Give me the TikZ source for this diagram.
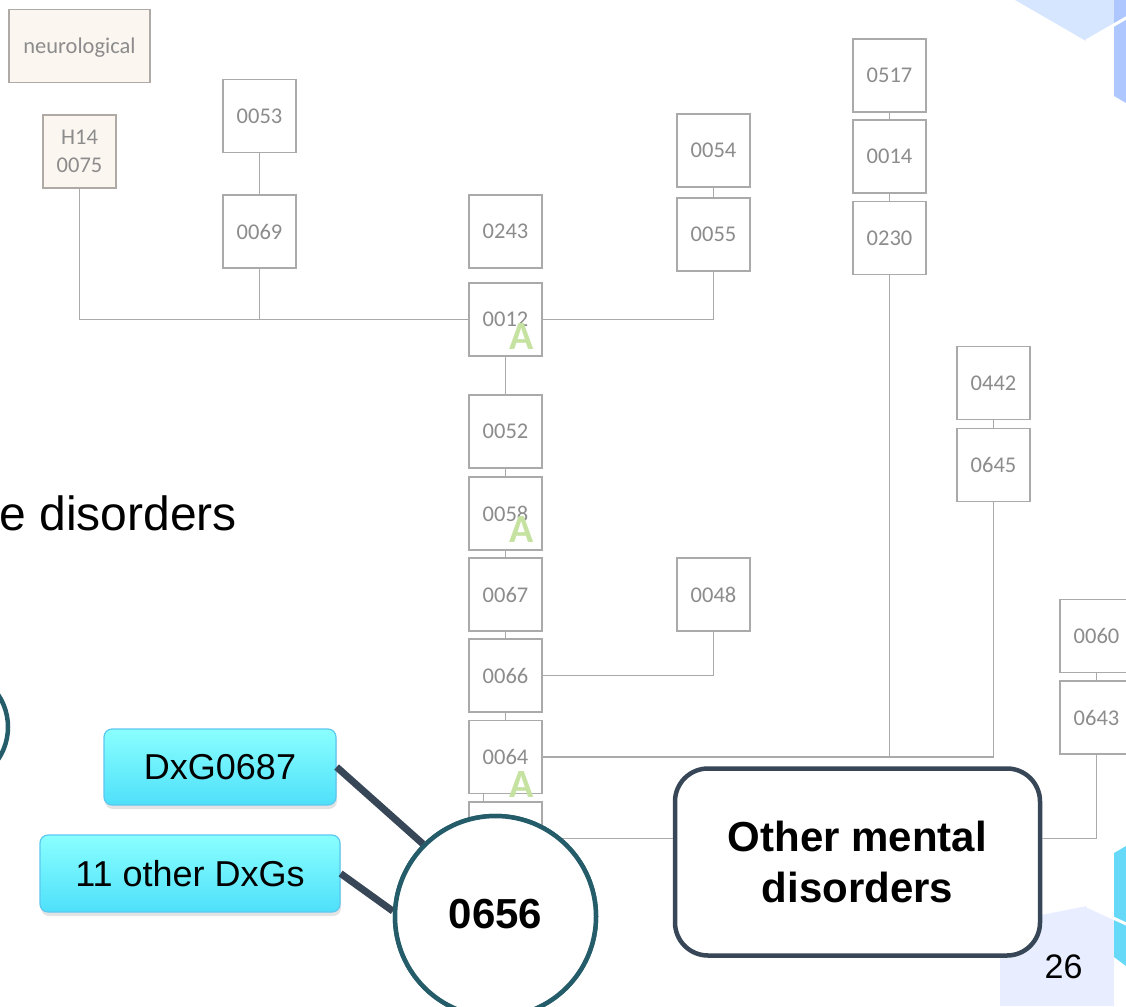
\documentclass[tikz,border=0pt]{standalone}
\usepackage{fontspec}
\setmainfont{Liberation Sans}
\newfontfamily\calfont{Carlito}
\usetikzlibrary{shadows}

\definecolor{boxline}{RGB}{170,170,170}
\definecolor{boxtext}{RGB}{140,140,140}
\definecolor{beige}{RGB}{252,246,241}
\definecolor{beigeline}{RGB}{176,170,166}
\definecolor{agreen}{RGB}{197,226,160}
\definecolor{slate}{RGB}{56,71,87}
\definecolor{ringteal}{RGB}{36,92,106}
\definecolor{cyantop}{RGB}{138,255,255}
\definecolor{cyanbot}{RGB}{78,224,250}
\definecolor{cyanline}{RGB}{92,200,240}
\definecolor{hexlight}{RGB}{214,230,255}
\definecolor{hexblue}{RGB}{174,200,255}
\definecolor{hexlav}{RGB}{232,238,255}
\definecolor{hexcyan}{RGB}{102,217,248}

\begin{document}
\begin{tikzpicture}[x=1pt,y=-1pt,
  codebox/.style={draw=boxline, line width=1.3pt, fill=white,
    minimum width=73pt, minimum height=73pt, inner sep=0pt, text depth=0pt,
    text=boxtext, font=\calfont\fontsize{22.5}{28}\selectfont, align=center},
  oldbox/.style={codebox, fill=beige, draw=beigeline},
  link/.style={draw=boxline, line width=1.3pt},
  amark/.style={text=agreen, font=\calfont\bfseries\fontsize{40}{40}\selectfont,
    inner sep=0pt, anchor=base},
  dxg/.style={rounded corners=8pt, draw=cyanline, line width=1.2pt,
    top color=cyantop, bottom color=cyanbot, inner sep=0pt,
    font=\fontsize{36}{40}\selectfont,
    drop shadow={opacity=0.22, shadow xshift=1pt, shadow yshift=-4pt}},
  heavy/.style={draw=slate, line width=7pt},
  ring/.style={circle, draw=ringteal, line width=4.5pt, fill=white,
    minimum size=201pt, inner sep=0pt},
  groupbox/.style={draw=slate, line width=4.5pt, fill=white, rounded corners=33pt,
    minimum width=365pt, minimum height=187pt, inner sep=0pt, align=center,
    font=\bfseries\fontsize{42}{51}\selectfont}
]
\useasboundingbox (0,0) rectangle (1126,1006);

% corner hexagons
\fill[hexlight] (1015,0) -- (1086,41) -- (1126,18) -- (1126,0) -- cycle;
\fill[hexblue] (1114,0) -- (1114,96) -- (1126,103) -- (1126,0) -- cycle;
\draw[white, line width=3pt] (1086,41) -- (1140,10);
\fill[hexlav] (1000,923) -- (1087,906) -- (1114,918) -- (1114,1006) -- (1000,1006) -- cycle;
\fill[hexcyan] (1114,853) -- (1126,846) -- (1126,966) -- (1114,957) -- cycle;
\draw[white, line width=3pt] (1087,906) -- (1135,928);

% code boxes
\node[oldbox, minimum width=141pt] (neuro) at (79.5,46) {neurological};
\node[oldbox] (h14) at (79.5,151.5) {H14\\0075};
\node[codebox] (b0053) at (259.5,116) {0053};
\node[codebox] (b0069) at (259.5,231.5) {0069};
\node[codebox] (b0243) at (505.5,231.5) {0243};
\node[codebox] (b0012) at (505.5,319.5) {0012};
\node[codebox] (b0054) at (713.5,150.5) {0054};
\node[codebox] (b0055) at (713.5,234.5) {0055};
\node[codebox] (b0052) at (505.5,431.5) {0052};
\node[codebox] (b0058) at (505.5,513.5) {0058};
\node[codebox] (b0067) at (505.5,594.5) {0067};
\node[codebox] (b0066) at (505.5,675.5) {0066};
\node[codebox] (b0048) at (713.5,594.5) {0048};
\node[codebox] (b0064) at (505.5,757) {0064};
\node[codebox] (b0656) at (505.5,838.5) {};
\node[codebox] (b0517) at (889.5,75.5) {0517};
\node[codebox] (b0014) at (889.5,156.5) {0014};
\node[codebox] (b0230) at (889.5,238) {0230};
\node[codebox] (b0442) at (993.5,383) {0442};
\node[codebox] (b0645) at (993.5,465) {0645};
\node[codebox] (b0060) at (1096.5,636) {0060};
\node[codebox] (b0643) at (1096.5,717.5) {0643};

\node[groupbox] (other) at (857.5,862) {Other mental\\disorders};

% tree connectors
\draw[link] (b0053) -- (b0069);
\draw[link] (h14.south) |- (b0012.west);
\draw[link] (b0069.south) -- (b0069.south |- b0012.west);
\draw[link] (b0012.east) -| (b0055.south);
\draw[link] (b0054) -- (b0055);
\draw[link] (b0012) -- (b0052);
\draw[link] (b0052) -- (b0058);
\draw[link] (b0058) -- (b0067);
\draw[link] (b0067) -- (b0066);
\draw[link] (b0066) -- (b0064);
\draw[link] (b0066.east) -| (b0048.south);
\draw[link] (b0517) -- (b0014);
\draw[link] (b0014) -- (b0230);
\draw[link] (b0442) -- (b0645);
\draw[link] (b0060) -- (b0643);
\draw[link] (b0064.east) -| (b0645.south);
\draw[link] (b0230.south) -- (b0230.south |- b0064.east);
\draw[link] ([xshift=-22pt]b0064.south) -- ([xshift=-22pt]b0656.north);
\draw[link] (b0656.east) -- (b0656.east -| other.west);
\draw[link] (other.east |- b0656.east) -| (b0643.south);

% A marks
\node[amark] (a1) at (521.5,349.5) {A};
\node[amark] (a2) at (521.5,542.5) {A};
\node[amark] (a3) at (521.5,797.5) {A};

% left text and ring fragment
\node[anchor=base east, inner sep=0pt, font=\fontsize{48}{56}\selectfont] (lefttext) at (237,530) {e disorders};
\node[ring, minimum size=116pt] (leftring) at (-50,727) {};

% DxG callouts and the 0656 ring
\node[ring] (c656) at (495.5,916.5) {};
\node[dxg, minimum width=232pt, minimum height=76pt] (dxg1) at (220,767) {DxG0687};
\node[dxg, minimum width=300pt, minimum height=77pt] (dxg2) at (190,873.5) {11 other DxGs};
\draw[heavy] (dxg1.east) -- (c656.135);
\draw[heavy] (dxg2.east) -- (c656.177);
\node[ring] (c656top) at (c656) {};
\node[inner sep=0pt, anchor=base, font=\bfseries\fontsize{42}{42}\selectfont] (t656) at (495.5,928) {0656};

% page number
\node[inner sep=0pt, anchor=base, font=\fontsize{34}{34}\selectfont] (pnum) at (1063.5,978) {26};
\end{tikzpicture}
\end{document}
